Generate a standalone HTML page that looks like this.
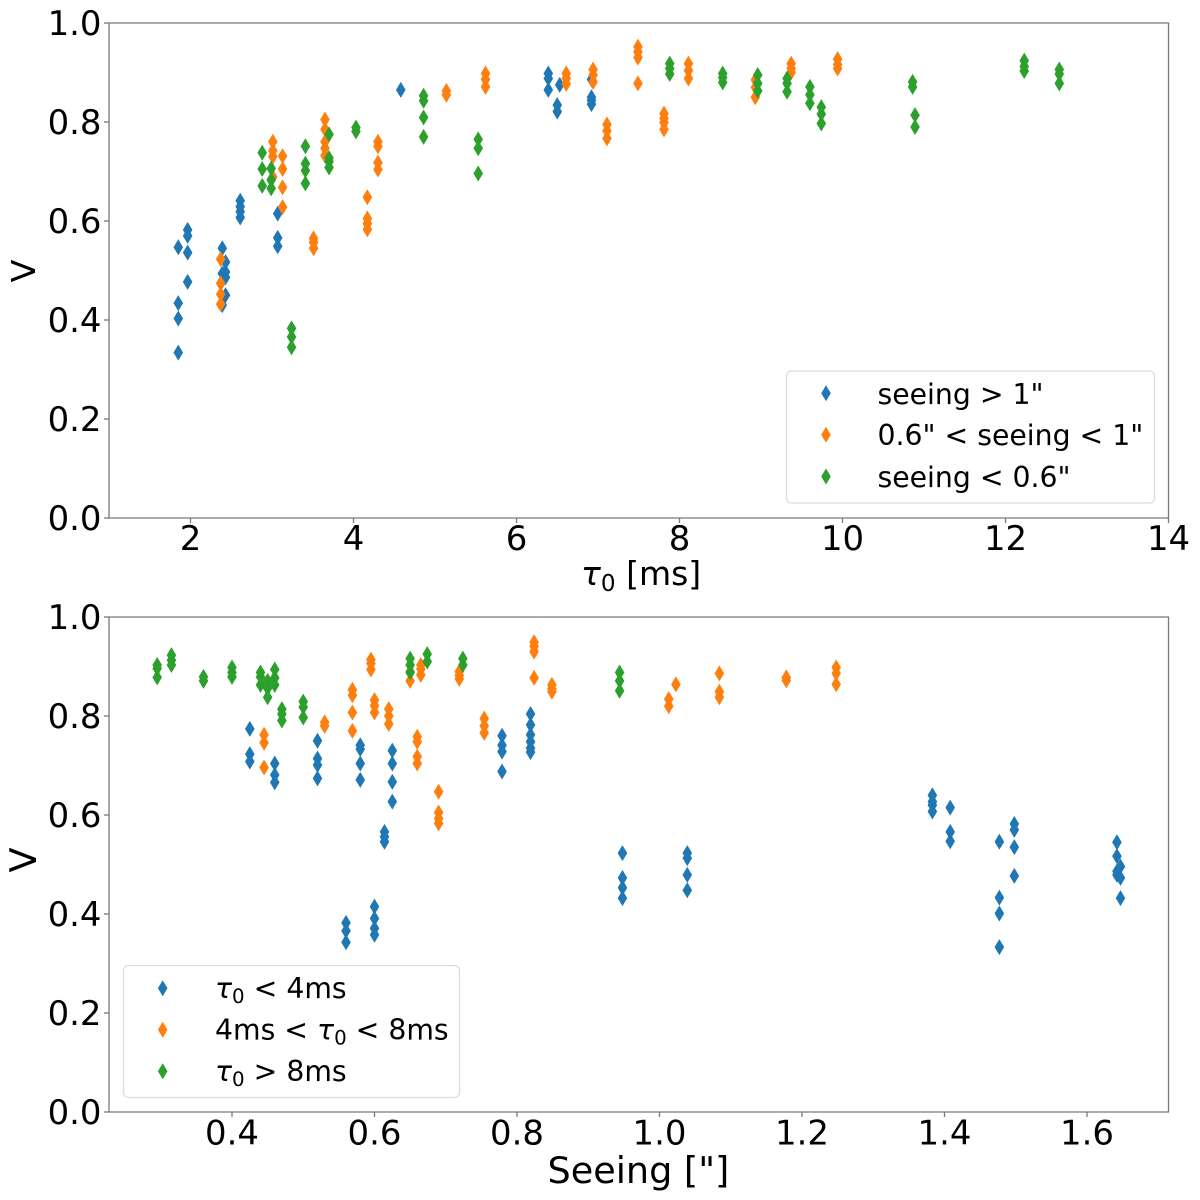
<!DOCTYPE html>
<html lang="en">
<head>
<meta charset="utf-8">
<title>Visibility vs coherence time and seeing</title>
<style>
html,body{margin:0;padding:0;background:#fff;}
svg{display:block;}
text{font-family:"DejaVu Sans","Liberation Sans",sans-serif;fill:#000;}
.it{font-style:italic;}
</style>
</head>
<body>
<svg id="figure" xmlns="http://www.w3.org/2000/svg" width="1200" height="1200" viewBox="0 0 1200 1200">
  <rect x="0" y="0" width="1200" height="1200" fill="#fff"/>
  <g id="top-chart">
    <g id="top-marks"></g>
    <g id="top-axes"></g>
    <text x="581" y="585" font-size="33"><tspan class="it">τ</tspan><tspan font-size="23.1" dy="6">0</tspan><tspan dy="-6"> [ms]</tspan></text>
    <text transform="translate(35,271) rotate(-90)" text-anchor="middle" font-size="33.3">V</text>
    <g>
      <rect x="786.5" y="371" width="368" height="132" rx="5" fill="#fff" fill-opacity="0.8" stroke="#dcdcdc" stroke-width="1.3"/>
      <polygon points="826,385.3 830.8,393.3 826,401.3 821.2,393.3" fill="#1f77b4"/>
      <text x="877.5" y="404" font-size="28.3">seeing &gt; 1"</text>
      <polygon points="826,426.8 830.8,434.8 826,442.8 821.2,434.8" fill="#ff7f0e"/>
      <text x="877.5" y="445" font-size="28.3">0.6" &lt; seeing &lt; 1"</text>
      <polygon points="826,468.5 830.8,476.5 826,484.5 821.2,476.5" fill="#2ca02c"/>
      <text x="877.5" y="487" font-size="28.3">seeing &lt; 0.6"</text>
    </g>
  </g>
  <g id="bottom-chart">
    <g id="bottom-marks"></g>
    <g id="bottom-axes"></g>
    <text x="547.5" y="1183" font-size="36.6">Seeing ["]</text>
    <text transform="translate(36,860) rotate(-90)" text-anchor="middle" font-size="36.6">V</text>
    <g>
      <rect x="123.5" y="965.5" width="336" height="132" rx="5" fill="#fff" fill-opacity="0.8" stroke="#dcdcdc" stroke-width="1.3"/>
      <polygon points="162.7,980.3 167.5,988.3 162.7,996.3 157.9,988.3" fill="#1f77b4"/>
      <text x="215" y="998" font-size="28.3"><tspan class="it">τ</tspan><tspan font-size="19.8" dy="5">0</tspan><tspan dy="-5"> &lt; 4ms</tspan></text>
      <polygon points="162.7,1021.8 167.5,1029.8 162.7,1037.8 157.9,1029.8" fill="#ff7f0e"/>
      <text x="215" y="1039.5" font-size="28.3">4ms &lt; <tspan class="it">τ</tspan><tspan font-size="19.8" dy="5">0</tspan><tspan dy="-5"> &lt; 8ms</tspan></text>
      <polygon points="162.7,1063.2 167.5,1071.2 162.7,1079.2 157.9,1071.2" fill="#2ca02c"/>
      <text x="215" y="1081" font-size="28.3"><tspan class="it">τ</tspan><tspan font-size="19.8" dy="5">0</tspan><tspan dy="-5"> &gt; 8ms</tspan></text>
    </g>
  </g>
</svg>
<script>
// ---- top chart data: coherence time (ms) vs visibility ----
const topHighSeeingTau = [1.85,1.85,1.85,1.85,1.965,1.965,1.965,1.965,2.39,2.39,2.39,2.39,2.43,2.43,2.43,2.43,2.61,2.61,2.61,2.61,3.07,3.07,3.07,4.58,6.39,6.39,6.39,6.53,6.50,6.50,6.92,6.92,6.92,6.92];
const topHighSeeingV = [0.547,0.434,0.403,0.334,0.582,0.570,0.536,0.477,0.545,0.494,0.479,0.430,0.517,0.497,0.486,0.450,0.641,0.629,0.619,0.607,0.615,0.566,0.549,0.865,0.898,0.888,0.865,0.875,0.834,0.821,0.886,0.850,0.844,0.836];

const topMidSeeingTau = [2.37,2.37,2.37,2.37,3.01,3.01,3.01,3.01,3.13,3.13,3.13,3.13,3.51,3.51,3.51,3.65,3.65,3.65,3.65,3.65,4.17,4.17,4.17,4.17,4.30,4.30,4.30,4.30,5.14,5.14,5.62,5.62,5.62,6.61,6.61,6.61,6.94,6.94,6.94,7.11,7.11,7.11,7.49,7.49,7.49,7.49,7.81,7.81,7.81,7.81,8.11,8.11,8.11,8.93,8.93,8.93,9.37,9.37,9.37,9.94,9.94,9.94];
const topMidSeeingV = [0.523,0.474,0.452,0.432,0.760,0.742,0.730,0.689,0.731,0.705,0.668,0.628,0.565,0.557,0.545,0.805,0.785,0.760,0.747,0.732,0.648,0.605,0.595,0.583,0.760,0.751,0.718,0.704,0.863,0.855,0.898,0.886,0.871,0.898,0.888,0.877,0.906,0.895,0.881,0.795,0.782,0.767,0.952,0.942,0.930,0.878,0.817,0.807,0.799,0.785,0.918,0.904,0.888,0.885,0.870,0.850,0.918,0.908,0.900,0.927,0.916,0.908];

const topLowSeeingTau = [2.88,2.88,2.88,2.99,2.99,2.99,3.24,3.24,3.24,3.41,3.41,3.41,3.41,3.70,3.70,3.70,3.70,4.03,4.03,4.86,4.86,4.86,4.86,5.53,5.53,5.53,7.88,7.88,7.88,8.53,8.53,8.53,8.96,8.96,8.96,9.32,9.32,9.32,9.60,9.60,9.60,9.74,9.74,9.74,10.86,10.86,10.89,10.89,12.23,12.23,12.23,12.66,12.66,12.66];
const topLowSeeingV = [0.738,0.705,0.671,0.706,0.683,0.666,0.383,0.366,0.345,0.751,0.716,0.702,0.676,0.775,0.727,0.720,0.708,0.789,0.781,0.853,0.843,0.809,0.770,0.765,0.747,0.696,0.918,0.908,0.897,0.898,0.890,0.880,0.895,0.878,0.863,0.888,0.878,0.861,0.871,0.855,0.838,0.830,0.816,0.797,0.881,0.871,0.814,0.790,0.924,0.912,0.903,0.906,0.897,0.878];

// ---- bottom chart data: seeing (arcsec) vs visibility ----
const bottomShortTauSeeing = [0.425,0.425,0.425,0.46,0.46,0.46,0.52,0.52,0.52,0.52,0.58,0.58,0.58,0.58,0.625,0.625,0.625,0.625,0.614,0.614,0.614,0.56,0.56,0.56,0.60,0.60,0.60,0.60,0.779,0.779,0.779,0.779,0.819,0.819,0.819,0.819,0.819,0.819,0.948,0.948,0.948,0.948,1.039,1.039,1.039,1.039,1.383,1.383,1.383,1.383,1.408,1.408,1.408,1.477,1.477,1.477,1.477,1.498,1.498,1.498,1.498,1.642,1.642,1.642,1.642,1.647,1.647,1.647];
const bottomShortTauV = [0.774,0.723,0.708,0.704,0.681,0.666,0.750,0.714,0.701,0.674,0.741,0.733,0.704,0.671,0.730,0.704,0.667,0.627,0.566,0.556,0.546,0.382,0.366,0.343,0.415,0.391,0.371,0.358,0.760,0.741,0.728,0.688,0.804,0.782,0.762,0.748,0.735,0.727,0.523,0.473,0.453,0.432,0.523,0.513,0.479,0.448,0.640,0.627,0.620,0.607,0.615,0.566,0.547,0.546,0.433,0.401,0.333,0.582,0.570,0.535,0.477,0.545,0.517,0.486,0.479,0.496,0.473,0.432];

const bottomMidTauSeeing = [0.445,0.445,0.445,0.53,0.53,0.569,0.569,0.569,0.569,0.595,0.595,0.595,0.60,0.60,0.60,0.62,0.62,0.62,0.66,0.66,0.66,0.66,0.69,0.69,0.69,0.69,0.65,0.65,0.665,0.665,0.665,0.719,0.719,0.719,0.754,0.754,0.754,0.824,0.824,0.824,0.824,0.849,0.849,0.849,1.013,1.013,1.023,1.084,1.084,1.084,1.178,1.178,1.248,1.248,1.248];
const bottomMidTauV = [0.762,0.746,0.696,0.787,0.780,0.853,0.842,0.807,0.770,0.914,0.906,0.894,0.832,0.821,0.807,0.814,0.800,0.784,0.758,0.748,0.718,0.704,0.647,0.605,0.593,0.583,0.890,0.871,0.903,0.895,0.883,0.890,0.882,0.875,0.795,0.780,0.766,0.949,0.941,0.930,0.877,0.863,0.855,0.849,0.834,0.820,0.864,0.886,0.849,0.838,0.878,0.872,0.898,0.886,0.864];

const bottomLongTauSeeing = [0.295,0.295,0.295,0.315,0.315,0.315,0.36,0.36,0.40,0.40,0.40,0.44,0.44,0.44,0.45,0.45,0.45,0.46,0.46,0.46,0.47,0.47,0.47,0.50,0.50,0.50,0.65,0.65,0.65,0.674,0.674,0.724,0.724,0.944,0.944,0.944];
const bottomLongTauV = [0.903,0.896,0.878,0.923,0.913,0.903,0.879,0.871,0.898,0.888,0.879,0.888,0.879,0.863,0.871,0.856,0.838,0.894,0.877,0.863,0.814,0.804,0.791,0.829,0.818,0.797,0.916,0.903,0.888,0.925,0.910,0.916,0.903,0.888,0.871,0.851];

// ---- tick labels ----
const topXTicks = [2,4,6,8,10,12,14];
const bottomXTicks = [0.4,0.6,0.8,1.0,1.2,1.4,1.6];
const vTicks = [0,0.2,0.4,0.6,0.8,1.0];

// ---- axis functions ----
const plotLeft = 109, plotRight = 1168.5;
const topY0 = 518, topY1 = 23, bottomY0 = 1112, bottomY1 = 617;
function topX(t){ return plotLeft + (t - 1) / 13 * (plotRight - plotLeft); }
function bottomX(s){ return 232 + (s - 0.4) * 712.5; }
function topY(v){ return topY0 + (topY1 - topY0) * v; }
function bottomY(v){ return bottomY0 + (bottomY1 - bottomY0) * v; }

const NS = 'http://www.w3.org/2000/svg';
const halfW = 4.8, halfH = 8;

function drawSeries(parent, xs, ys, xFn, yFn, color, markName){
  xs.forEach(function(x, i){
    const cx = xFn(x), cy = yFn(ys[i]);
    const p = document.createElementNS(NS, 'polygon');
    p.setAttribute('points', cx + ',' + (cy - halfH) + ' ' + (cx + halfW) + ',' + cy + ' ' + cx + ',' + (cy + halfH) + ' ' + (cx - halfW) + ',' + cy);
    p.setAttribute('fill', color);
    
    
    parent.appendChild(p);
  });
}

function addLine(parent, x1, y1, x2, y2, name){
  const l = document.createElementNS(NS, 'line');
  l.setAttribute('x1', x1);
  l.setAttribute('y1', y1);
  l.setAttribute('x2', x2);
  l.setAttribute('y2', y2);
  l.setAttribute('stroke', '#7a7a7a');
  l.setAttribute('stroke-width', '1.3');
  
  
  parent.appendChild(l);
}

function addLabel(parent, x, y, str, anchor, name){
  const t = document.createElementNS(NS, 'text');
  t.setAttribute('x', x);
  t.setAttribute('y', y);
  t.setAttribute('font-size', '33.9');
  t.setAttribute('text-anchor', anchor);
  
  
  t.textContent = str;
  parent.appendChild(t);
}

function drawAxes(parent, xTicks, xFmt, xFn, yFn, y0, y1, baseline){
  addLine(parent, plotLeft, y1, plotLeft, y0, 'left-spine');
  addLine(parent, plotRight, y1, plotRight, y0, 'right-spine');
  addLine(parent, plotLeft - 0.6, y1, plotRight + 0.6, y1, 'top-spine');
  addLine(parent, plotLeft - 0.6, y0, plotRight + 0.6, y0, 'bottom-spine');
  xTicks.forEach(function(v){
    const px = xFn(v);
    addLine(parent, px, y0, px, y0 + 5, 'x-tick');
    addLabel(parent, px, baseline, xFmt(v), 'middle', 'x-tick-label');
  });
  vTicks.forEach(function(v){
    const py = yFn(v);
    addLine(parent, plotLeft - 5, py, plotLeft, py, 'y-tick');
    addLabel(parent, 101.5, py + 12.2, v.toFixed(1), 'end', 'y-tick-label');
  });
}

const topMarks = document.getElementById('top-marks');
drawSeries(topMarks, topHighSeeingTau, topHighSeeingV, topX, topY, '#1f77b4', 'point-seeing-above-1');
drawSeries(topMarks, topMidSeeingTau, topMidSeeingV, topX, topY, '#ff7f0e', 'point-seeing-0.6-to-1');
drawSeries(topMarks, topLowSeeingTau, topLowSeeingV, topX, topY, '#2ca02c', 'point-seeing-below-0.6');

const bottomMarks = document.getElementById('bottom-marks');
drawSeries(bottomMarks, bottomShortTauSeeing, bottomShortTauV, bottomX, bottomY, '#1f77b4', 'point-tau-below-4ms');
drawSeries(bottomMarks, bottomMidTauSeeing, bottomMidTauV, bottomX, bottomY, '#ff7f0e', 'point-tau-4-to-8ms');
drawSeries(bottomMarks, bottomLongTauSeeing, bottomLongTauV, bottomX, bottomY, '#2ca02c', 'point-tau-above-8ms');

drawAxes(document.getElementById('top-axes'), topXTicks, function(v){ return String(v); }, topX, topY, topY0, topY1, 550);
drawAxes(document.getElementById('bottom-axes'), bottomXTicks, function(v){ return v.toFixed(1); }, bottomX, bottomY, bottomY0, bottomY1, 1144.5);
</script>
</body>
</html>
